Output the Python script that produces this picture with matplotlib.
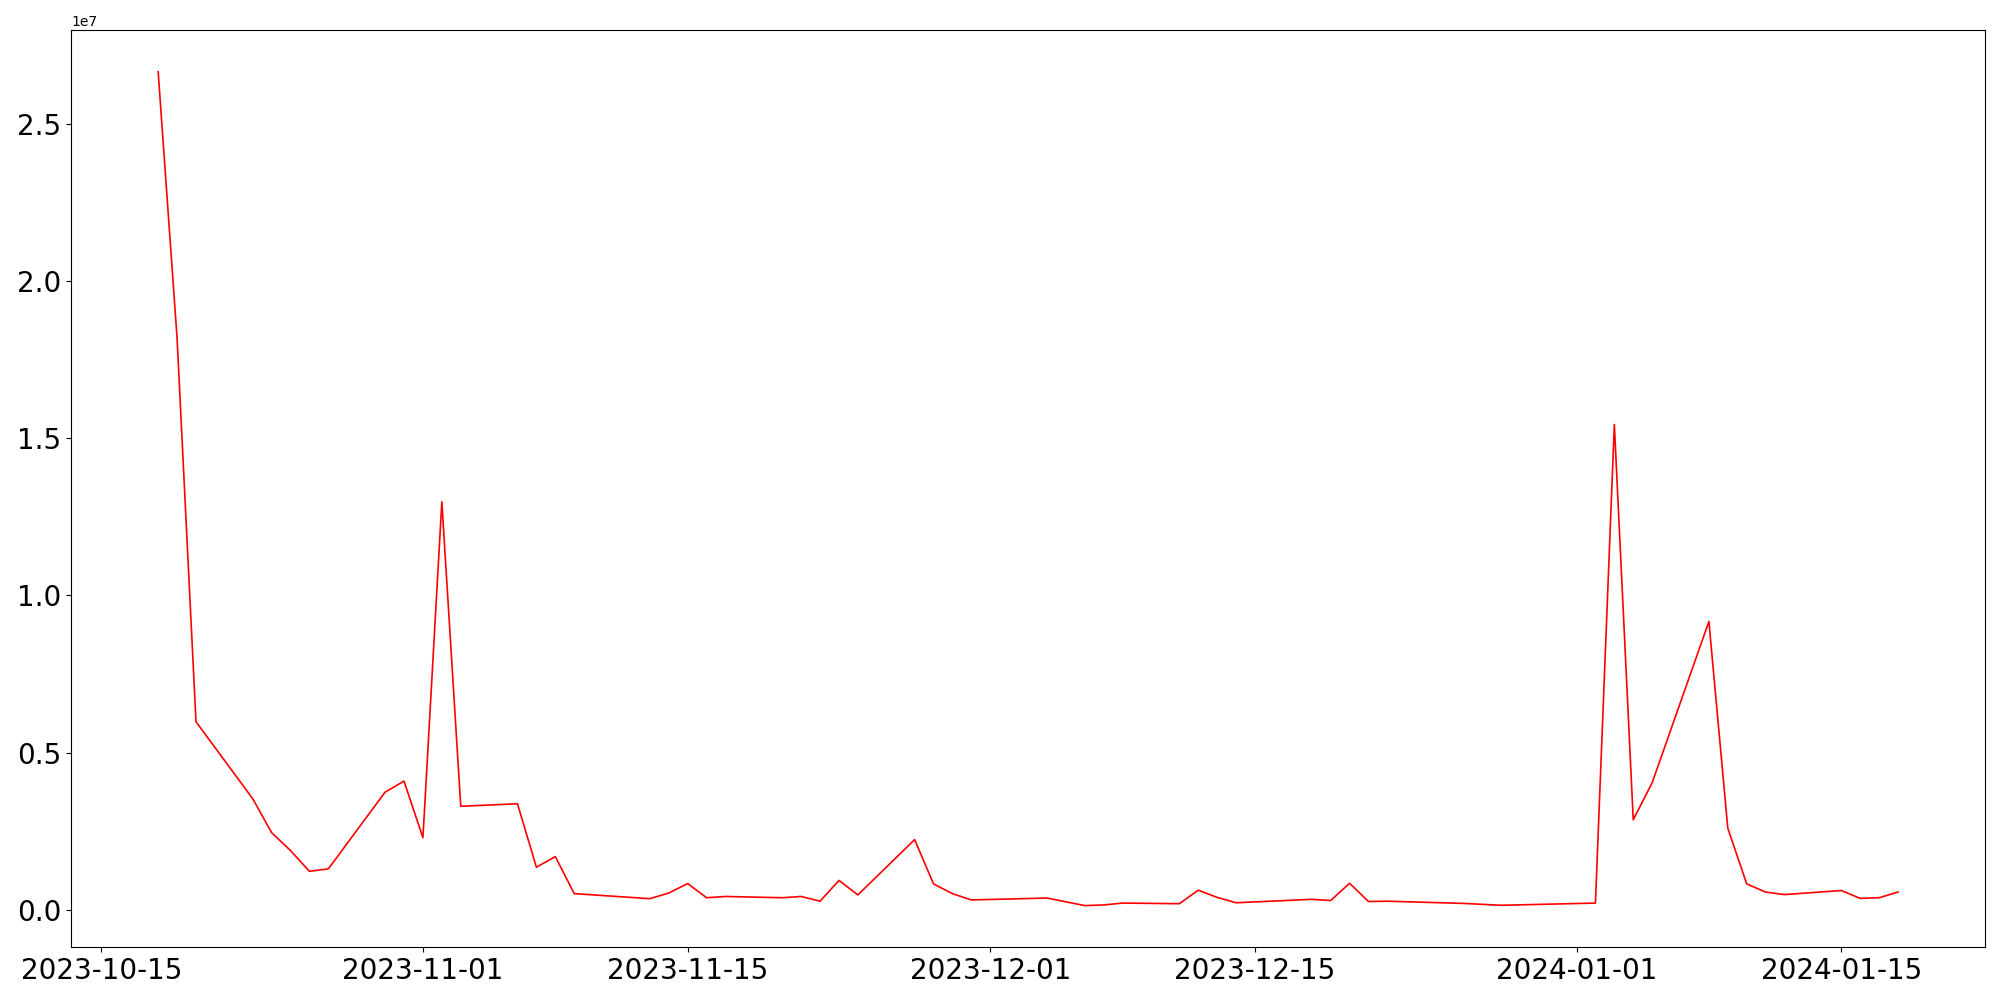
import pandas as pd
import matplotlib
matplotlib.use('Agg')
import matplotlib.pyplot as plt

# daily values (weekday dates only)
dates = ['2023-10-18', '2023-10-19', '2023-10-20', '2023-10-23', '2023-10-24',
         '2023-10-25', '2023-10-26', '2023-10-27', '2023-10-30', '2023-10-31',
         '2023-11-01', '2023-11-02', '2023-11-03', '2023-11-06', '2023-11-07',
         '2023-11-08', '2023-11-09', '2023-11-13', '2023-11-14', '2023-11-15',
         '2023-11-16', '2023-11-17', '2023-11-20', '2023-11-21', '2023-11-22',
         '2023-11-23', '2023-11-24', '2023-11-27', '2023-11-28', '2023-11-29',
         '2023-11-30', '2023-12-04', '2023-12-06', '2023-12-07', '2023-12-08',
         '2023-12-11', '2023-12-12', '2023-12-13', '2023-12-14', '2023-12-18',
         '2023-12-19', '2023-12-20', '2023-12-21', '2023-12-22', '2023-12-26',
         '2023-12-28', '2024-01-02', '2024-01-03', '2024-01-04', '2024-01-05',
         '2024-01-08', '2024-01-09', '2024-01-10', '2024-01-11', '2024-01-12',
         '2024-01-15', '2024-01-16', '2024-01-17', '2024-01-18']

values = [26660000, 18180000, 5980000, 3530000, 2450000,
          1880000, 1220000, 1300000, 3740000, 4090000,
          2290000, 12980000, 3290000, 3370000, 1350000,
          1690000, 510000, 350000, 530000, 830000,
          380000, 420000, 380000, 420000, 270000,
          930000, 470000, 2230000, 820000, 510000,
          310000, 370000, 130000, 150000, 210000,
          190000, 620000, 390000, 220000, 330000,
          290000, 840000, 260000, 270000, 200000,
          140000, 210000, 15440000, 2860000, 4040000,
          9170000, 2590000, 820000, 560000, 480000,
          610000, 360000, 380000, 560000]

x = pd.to_datetime(dates)

fig, ax = plt.subplots(figsize=(20, 10), dpi=100)
ax.plot(x, values, color='red', linewidth=1.2)
ax.tick_params(axis='both', labelsize=20)

plt.tight_layout()
plt.savefig('out.png', dpi=100)
